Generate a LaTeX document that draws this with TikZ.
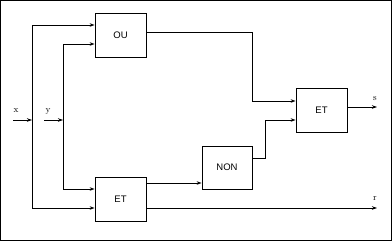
\documentclass[tikz,border=0pt]{standalone}
\usepackage{fontspec}
\newfontfamily\boxfont{Liberation Sans}
\usetikzlibrary{arrows.meta}
\begin{document}
\begin{tikzpicture}[x=1pt,y=-1pt,line width=0.8pt,
  >={Stealth[length=5pt,width=3.5pt]},
  box/.style={draw,minimum width=51pt,minimum height=44pt,inner sep=0pt,font=\boxfont\fontsize{9.5}{10}\selectfont},
  lbl/.style={font=\small,inner sep=0pt}]
\useasboundingbox (0,0) rectangle (392,241);
\draw (0.5,0.5) rectangle (391.5,240.5);
\node[box] (ou) at (120.5,35) {OU};
\node[box] (et1) at (120.5,199) {ET};
\node[box,minimum width=50pt,minimum height=43pt] (non) at (227,167.5) {NON};
\node[box] (et2) at (321.5,110.5) {ET};
\coordinate (xs) at (13,120);
\coordinate (xj) at (32,120);
\coordinate (ys) at (44,120);
\coordinate (yj) at (63,120);
\coordinate (so) at (377,107);
\coordinate (ro) at (377,208);
\node[lbl] (xl) at (16,111) {x};
\node[lbl] (yl) at (48,111) {y};
\node[lbl] (sl) at (375,99) {s};
\node[lbl] (rl) at (375,199) {r};
\draw[->] (xs) -- (xj);
\draw[->] (ys) -- (yj);
\draw[->] (xj) |- ([yshift=10pt]ou.west);
\draw[->] (yj) |- ([yshift=-9pt]ou.west);
\draw[->] (xj) |- ([yshift=-9pt]et1.west);
\draw[->] (yj) |- ([yshift=10pt]et1.west);
\draw[->] ([yshift=16pt]et1.east) -- ([yshift=-15.5pt]non.west);
\draw[->] ([yshift=-9pt]et1.east) -- (ro);
\draw[->] ([yshift=3pt]ou.east) -- ++(106,0) |- ([yshift=9.5pt]et2.west);
\draw[->] ([yshift=9.5pt]non.east) -- ++(13,0) |- ([yshift=-9.5pt]et2.west);
\draw[->] ([yshift=3.5pt]et2.east) -- (so);
\end{tikzpicture}
\end{document}
